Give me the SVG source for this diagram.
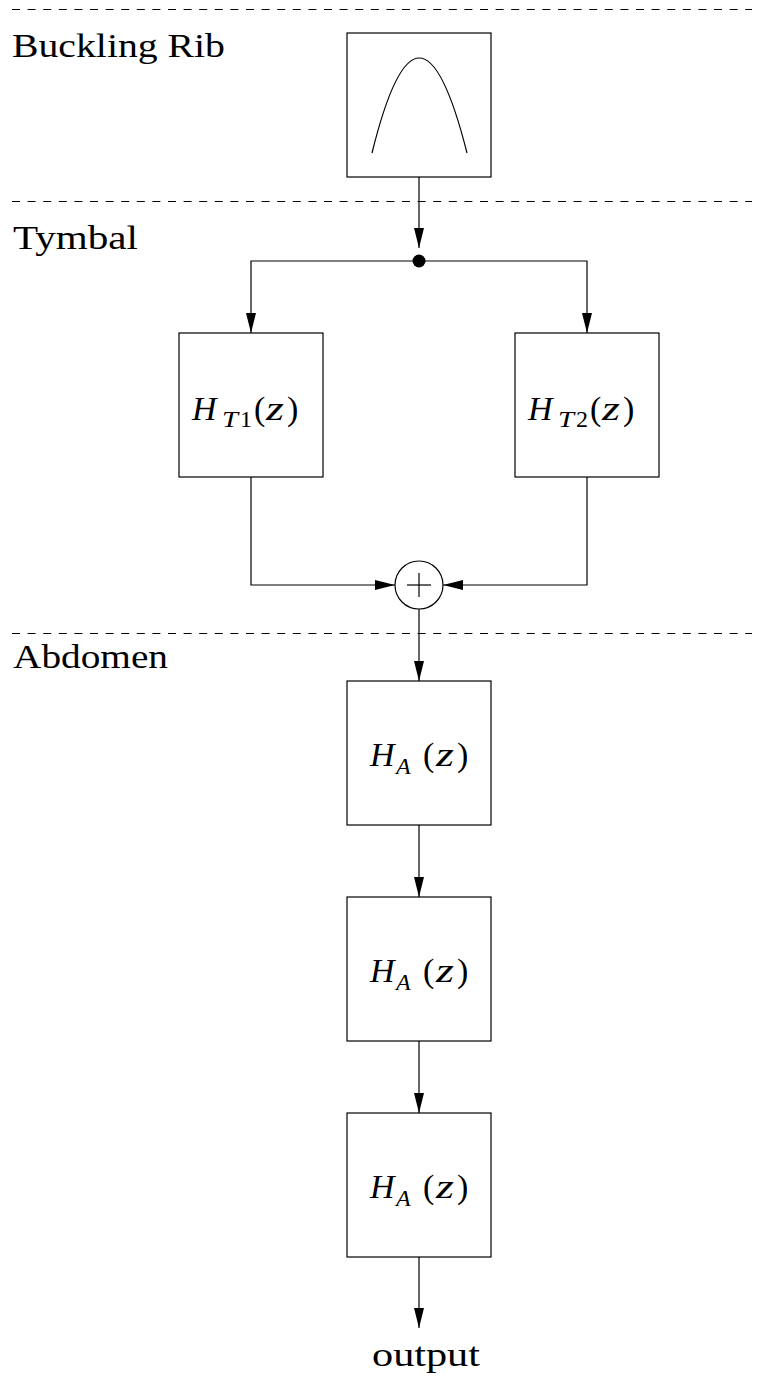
<svg xmlns="http://www.w3.org/2000/svg" width="760" height="1376" viewBox="0 0 760 1376">
  <defs>
    <marker id="arrow" markerUnits="userSpaceOnUse" markerWidth="20" markerHeight="10" refX="20" refY="5" orient="auto">
      <path d="M0,0 L20,5 L0,10 z" fill="#000"/>
    </marker>
    <style>
      .box { fill: #fff; stroke: #000; stroke-width: 1.2; }
      .wire { fill: none; stroke: #000; stroke-width: 1.2; }
      .sep { stroke: #000; stroke-width: 1; stroke-dasharray: 8 7.6; }
      .lbl { font-family: "Liberation Serif", "DejaVu Serif", serif; font-size: 33px; fill: #000; }
      .mi { font-family: "Liberation Serif", "DejaVu Serif", serif; font-style: italic; font-size: 34px; fill: #000; }
      .mr { font-family: "Liberation Serif", "DejaVu Serif", serif; font-size: 34px; fill: #000; }
      .si { font-family: "Liberation Serif", "DejaVu Serif", serif; font-style: italic; font-size: 24px; fill: #000; }
      .sr { font-family: "Liberation Serif", "DejaVu Serif", serif; font-size: 24px; fill: #000; }
    </style>
  </defs>

  <!-- section separators and titles -->
  <g id="sections">
    <line class="sep" x1="12" y1="9.5" x2="752" y2="9.5"/>
    <line class="sep" x1="12" y1="201.5" x2="752" y2="201.5"/>
    <line class="sep" x1="12" y1="633.5" x2="752" y2="633.5"/>
    <text class="lbl" x="12" y="57" textLength="213" lengthAdjust="spacingAndGlyphs">Buckling Rib</text>
    <text class="lbl" x="13" y="249" textLength="125" lengthAdjust="spacingAndGlyphs">Tymbal</text>
    <text class="lbl" x="13" y="668" textLength="155" lengthAdjust="spacingAndGlyphs">Abdomen</text>
  </g>

  <!-- connectors -->
  <g id="connectors">
    <line class="wire" x1="419" y1="177" x2="419" y2="248" marker-end="url(#arrow)"/>
    <polyline class="wire" points="419,261 251,261 251,333" marker-end="url(#arrow)"/>
    <polyline class="wire" points="419,261 587,261 587,333" marker-end="url(#arrow)"/>
    <polyline class="wire" points="251,477 251,585 395,585" marker-end="url(#arrow)"/>
    <polyline class="wire" points="587,477 587,585 443,585" marker-end="url(#arrow)"/>
    <line class="wire" x1="419" y1="609" x2="419" y2="681" marker-end="url(#arrow)"/>
    <line class="wire" x1="419" y1="825" x2="419" y2="897" marker-end="url(#arrow)"/>
    <line class="wire" x1="419" y1="1041" x2="419" y2="1113" marker-end="url(#arrow)"/>
    <line class="wire" x1="419" y1="1257" x2="419" y2="1328" marker-end="url(#arrow)"/>
  </g>

  <!-- buckling rib source -->
  <g id="rib">
    <rect class="box" x="347" y="33" width="144" height="144"/>
    <path class="wire" d="M372,153 Q419,-37 467,153"/>
  </g>

  <!-- branch point -->
  <g id="split">
    <circle cx="419" cy="261" r="6.5" fill="#000"/>
  </g>

  <g id="ht1">
    <rect class="box" x="179" y="333" width="144" height="144"/>
    <text class="mi" x="192" y="420">H</text>
    <text class="si" x="222" y="427" textLength="16" lengthAdjust="spacingAndGlyphs">T</text>
    <text class="sr" x="240" y="427">1</text>
    <text class="mr" x="254" y="420">(</text>
    <text class="mi" x="266" y="420" textLength="18" lengthAdjust="spacingAndGlyphs">z</text>
    <text class="mr" x="287" y="420">)</text>
  </g>

  <g id="ht2">
    <rect class="box" x="515" y="333" width="144" height="144"/>
    <text class="mi" x="528" y="420">H</text>
    <text class="si" x="558" y="427" textLength="16" lengthAdjust="spacingAndGlyphs">T</text>
    <text class="sr" x="576" y="427">2</text>
    <text class="mr" x="590" y="420">(</text>
    <text class="mi" x="602" y="420" textLength="18" lengthAdjust="spacingAndGlyphs">z</text>
    <text class="mr" x="623" y="420">)</text>
  </g>

  <!-- summing junction -->
  <g id="sum">
    <circle class="box" cx="419" cy="585" r="24"/>
    <line class="wire" x1="407" y1="585" x2="431" y2="585"/>
    <line class="wire" x1="419" y1="573" x2="419" y2="597"/>
  </g>

  <g id="ha1">
    <rect class="box" x="347" y="681" width="144" height="144"/>
    <text class="mi" x="370" y="766">H</text>
    <text class="si" x="396" y="774">A</text>
    <text class="mr" x="423" y="766">(</text>
    <text class="mi" x="436" y="766" textLength="18" lengthAdjust="spacingAndGlyphs">z</text>
    <text class="mr" x="457" y="766">)</text>
  </g>

  <g id="ha2">
    <rect class="box" x="347" y="897" width="144" height="144"/>
    <text class="mi" x="370" y="982">H</text>
    <text class="si" x="396" y="990">A</text>
    <text class="mr" x="423" y="982">(</text>
    <text class="mi" x="436" y="982" textLength="18" lengthAdjust="spacingAndGlyphs">z</text>
    <text class="mr" x="457" y="982">)</text>
  </g>

  <g id="ha3">
    <rect class="box" x="347" y="1113" width="144" height="144"/>
    <text class="mi" x="370" y="1198">H</text>
    <text class="si" x="396" y="1206">A</text>
    <text class="mr" x="423" y="1198">(</text>
    <text class="mi" x="436" y="1198" textLength="18" lengthAdjust="spacingAndGlyphs">z</text>
    <text class="mr" x="457" y="1198">)</text>
  </g>

  <g id="output">
    <text class="lbl" x="372" y="1366" textLength="108" lengthAdjust="spacingAndGlyphs">output</text>
  </g>
</svg>
